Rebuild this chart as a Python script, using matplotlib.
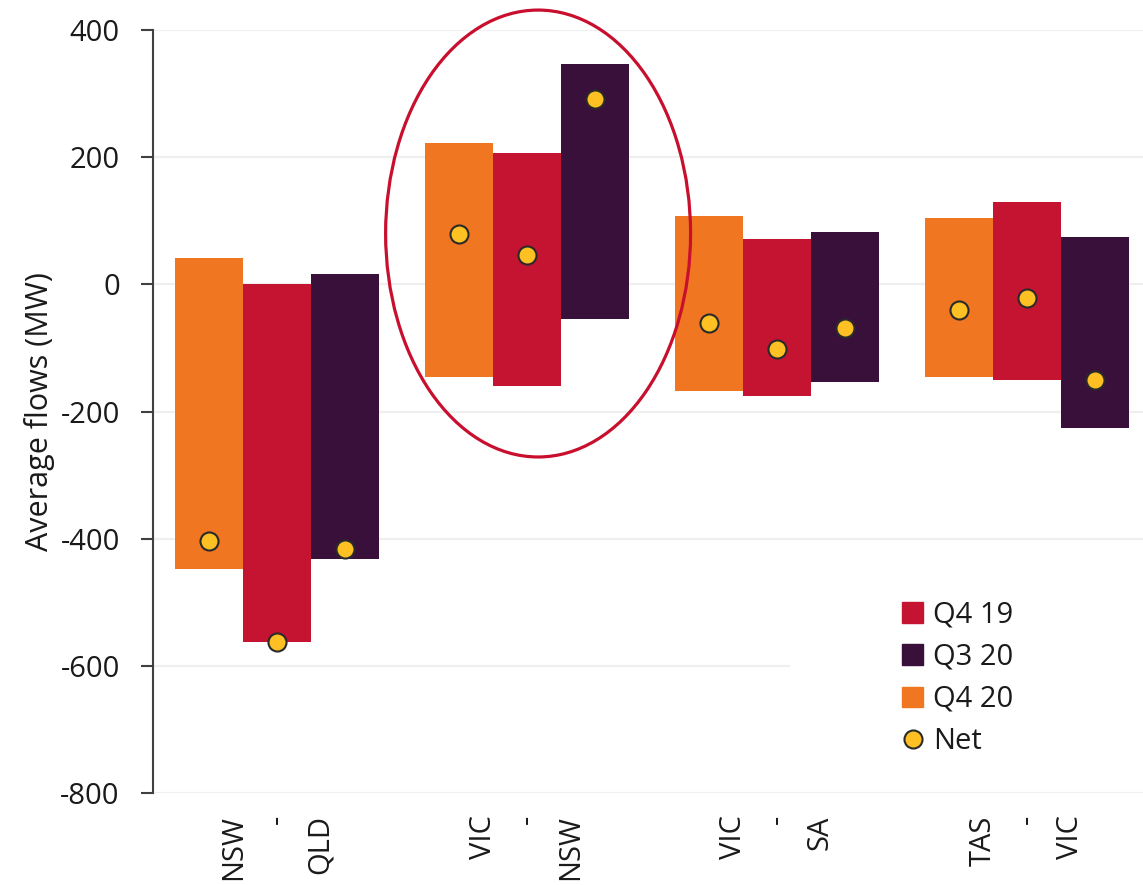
import matplotlib.pyplot as plt
from matplotlib.patches import Ellipse, Rectangle
from matplotlib.lines import Line2D
import numpy as np

plt.rcParams['font.family'] = ['Open Sans', 'DejaVu Sans']
plt.rcParams['axes.unicode_minus'] = False

# interconnectors
categorias = ["NSW\n-\nQLD", "VIC\n-\nNSW", "VIC\n-\nSA", "TAS\n-\nVIC"]

# fluxos positivos / negativos (MW) por trimestre
q420_pos = [41, 223, 107, 105]
q420_neg = [-447, -145, -167, -146]
q419_pos = [0, 206, 72, 129]
q419_neg = [-563, -160, -176, -151]
q320_pos = [16, 346, 83, 75]
q320_neg = [-432, -55, -153, -226]

# fluxo liquido
net_q420 = [-404, 80, -60, -41]
net_q419 = [-563, 47, -102, -22]
net_q320 = [-417, 291, -69, -151]

cor_laranja = "#F07622"
cor_vermelho = "#C51332"
cor_roxo = "#39103A"
cor_amarelo = "#FEC022"

fig = plt.figure(figsize=(11.43, 8.85), dpi=100)
ax = fig.add_axes([0.134, 0.104, 0.866, 0.862])

x = np.arange(len(categorias))
w = 0.272
series = [
    (q420_pos, q420_neg, net_q420, cor_laranja, -w),
    (q419_pos, q419_neg, net_q419, cor_vermelho, 0),
    (q320_pos, q320_neg, net_q320, cor_roxo, w),
]
for pos, neg, net, cor, off in series:
    ax.bar(x + off, pos, width=w, color=cor, zorder=2)
    ax.bar(x + off, neg, width=w, color=cor, zorder=2)
    ax.plot(x + off, net, 'o', ms=13, mfc=cor_amarelo, mec="#2a2a2a",
            mew=1.5, zorder=4, clip_on=False)

ax.set_ylim(-800, 400)
ax.set_xlim(-0.496, 3.464)
ax.set_yticks(range(-800, 401, 200))
ax.yaxis.grid(True, color="#EFEFEF", lw=1.6, zorder=0)
ax.set_axisbelow(True)

for s in ['top', 'right', 'bottom']:
    ax.spines[s].set_visible(False)
ax.spines['left'].set_color("#404040")
ax.spines['left'].set_linewidth(1.5)
ax.tick_params(axis='y', length=9, width=1.5, color="#404040", pad=15,
               labelsize=21, labelcolor="#1a1a1a")
ax.tick_params(axis='x', length=0, pad=16)

ax.set_xticks(x)
ax.set_xticklabels(categorias, rotation=90, ha='center', va='top',
                   multialignment='right', linespacing=1.65,
                   fontsize=21, color="#1a1a1a")
ax.set_ylabel("Average flows (MW)", fontsize=22, color="#1a1a1a", labelpad=4)

# destaque VIC-NSW
elipse = Ellipse((1.044, 80), 1.22, 703, fill=False, ec="#C8102E",
                 lw=2.3, zorder=5, clip_on=False)
ax.add_patch(elipse)

# fundo da legenda
ax.add_patch(Rectangle((0.643, 0.043), 0.36, 0.23, transform=ax.transAxes,
                       fc='white', ec='none', zorder=1))

handles = [
    Rectangle((0, 0), 1, 1, color=cor_vermelho),
    Rectangle((0, 0), 1, 1, color=cor_roxo),
    Rectangle((0, 0), 1, 1, color=cor_laranja),
    Line2D([], [], ls='none', marker='o', ms=13, mfc=cor_amarelo,
           mec="#2a2a2a", mew=1.5),
]
leg = ax.legend(handles, ["Q4 19", "Q3 20", "Q4 20", "Net"],
                loc='upper left', bbox_to_anchor=(0.757, 0.252),
                frameon=False, fontsize=21, handlelength=0.7,
                handleheight=0.7, handletextpad=0.35, labelspacing=0.45,
                borderaxespad=0, borderpad=0)
for t in leg.get_texts():
    t.set_color("#1a1a1a")

fig.savefig("out.png", dpi=100, facecolor='white')
